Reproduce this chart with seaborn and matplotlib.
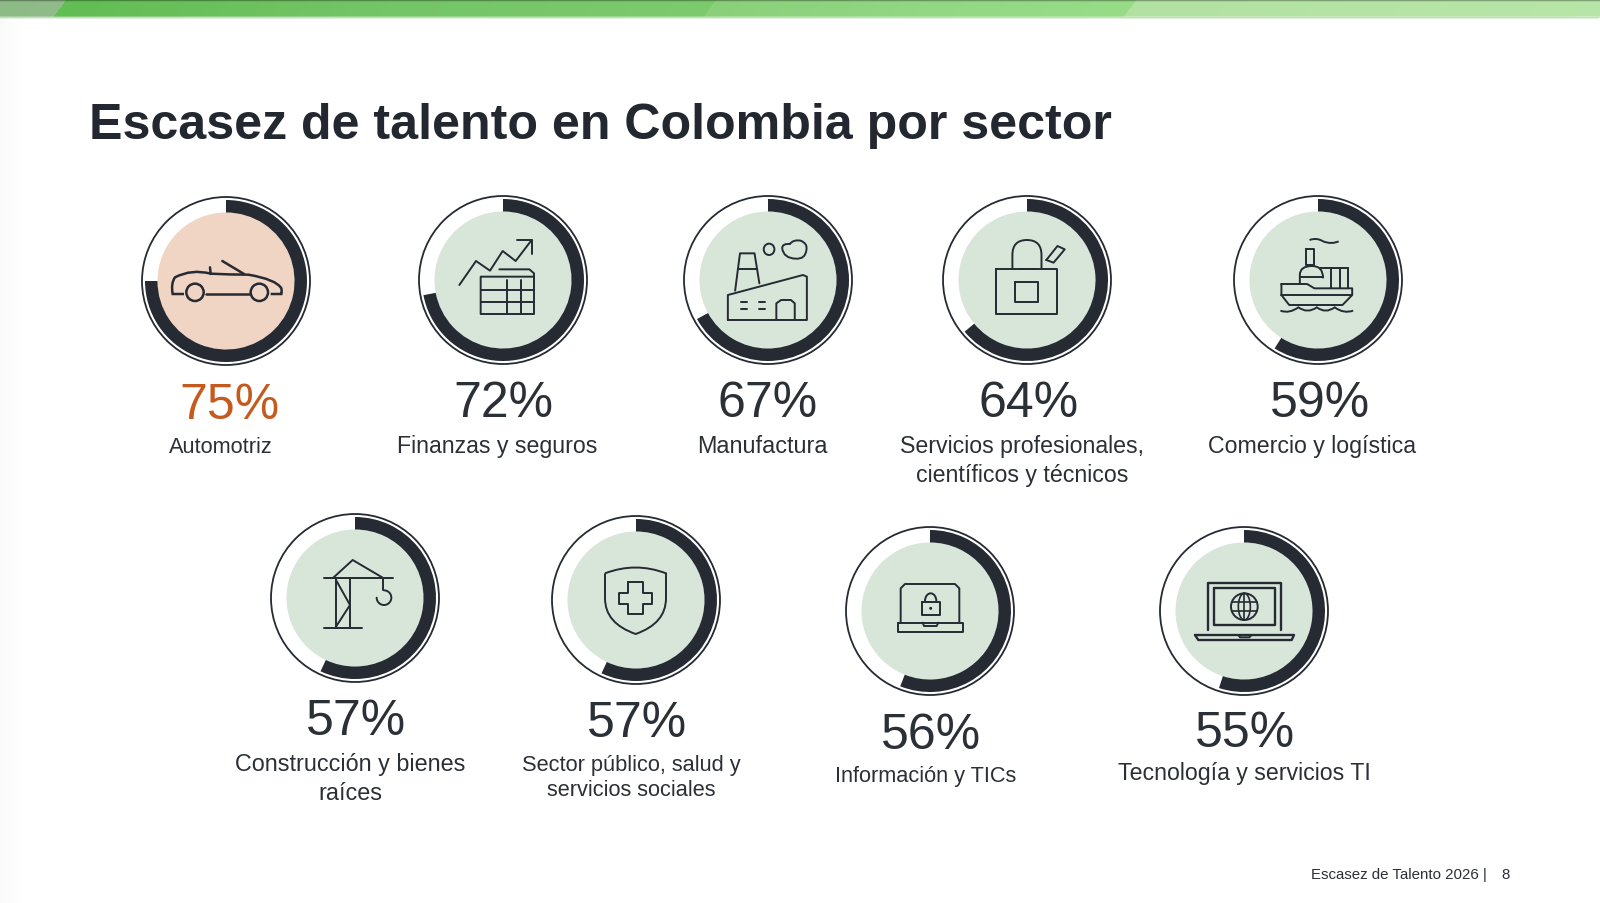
import numpy as np
import matplotlib
matplotlib.use("Agg")
import matplotlib.pyplot as plt
from matplotlib.patches import Circle, Ellipse, Arc, PathPatch
from matplotlib.path import Path
import seaborn as sns

TITLE = "Escasez de talento en Colombia por sector"
FOOTER = "Escasez de Talento 2026 |"
PAGE = "8"
sectors = ["Automotriz", "Finanzas y seguros", "Manufactura",
           "Servicios profesionales,\ncientíficos y técnicos", "Comercio y logística",
           "Construcción y bienes\nraíces", "Sector público, salud y\nservicios sociales",
           "Información y TICs", "Tecnología y servicios TI"]
values = [75, 72, 67, 64, 59, 57, 57, 56, 55]

W, H = 1600, 904
DARK = "#252a33"; GREEN = "#d8e5d9"; PEACH = "#f0d5c5"; ORANGE = "#c55a1e"; TXT = "#2b2f36"

sns.set_theme(style="white")
plt.rcParams["font.family"] = ["Liberation Sans", "DejaVu Sans"]

fig = plt.figure(figsize=(W/100, H/100), dpi=100, facecolor="white")
ax = fig.add_axes([0, 0, 1, 1])
ax.set_xlim(0, W); ax.set_ylim(H, 0); ax.axis("off")

# layout
centers = [(226, 282), (503, 281), (768, 281), (1027, 281), (1318, 281),
           (355, 599), (636, 601), (930, 612), (1244, 612)]
pct_pos = [(229, 406), (503, 404), (768, 404), (1029, 404), (1320, 404),
           (356, 722), (637, 724), (931, 736), (1245, 734)]
lab_pos = [(221, 448), (497, 447), (762, 447), (1022, 461), (1312, 447),
           (350, 779), (631, 778), (926, 777), (1244, 774)]
lab_size = [15.7, 16.7, 16.8, 16.7, 16.7, 16.8, 15.7, 15.7, 16.7]
lab_gap = [1.34, 1.34, 1.34, 1.34, 1.34, 1.34, 1.25, 1.34, 1.34]

# top band: slanted colour segments with a dark hairline above and a soft fade below
seg_a = sns.blend_palette(["#8dbb86", "#8fbc88"], 54)
seg_b = sns.blend_palette(["#62bd54", "#74c566", "#7ccb6d"], 650)
seg_c = sns.blend_palette(["#8ad07a", "#93d684", "#98dc88"], 420)
seg_d = sns.blend_palette(["#b2e2a2", "#b8e6a8"], 476 + 60)
row = np.vstack([seg_a, seg_b, seg_c, seg_d])
band = np.ones((20, W, 3))
for y in range(20):
    shift = int(round((17 - y) * 0.75))
    shifted = np.roll(row, shift, axis=0)[:W]
    shifted[:shift] = row[0]
    if y < 1:
        shifted = shifted * 0.45
    elif y == 1:
        shifted = shifted * 0.7
    elif y == 2:
        shifted = shifted * 0.92
    elif y >= 17:
        k = (y - 16) / 4
        shifted = shifted * (1 - k) + k
    band[y] = shifted
ax.imshow(band, extent=(0, W, 20, 0), aspect="auto", zorder=1, interpolation="bilinear")
# faint page shadow on the left
shade = np.linspace(0.98, 1, 22)[None, :, None].repeat(3, axis=2)
ax.imshow(shade, extent=(0, 22, H, 20), aspect="auto", zorder=0, vmin=0, vmax=1)
ax.set_xlim(0, W); ax.set_ylim(H, 0)

R_LINE, R_OUT, R_IN = 84, 81, 68.5
for i, ((cx, cy), v) in enumerate(zip(centers, values)):
    ax.add_patch(Circle((cx, cy), R_LINE, fc="white", ec=DARK, lw=1.3, zorder=2))
    ax.add_patch(Circle((cx, cy), R_IN, fc=PEACH if i == 0 else GREEN, ec="none", zorder=3))
    pa = fig.add_axes([(cx-R_OUT)/W, 1-(cy+R_OUT)/H, 2*R_OUT/W, 2*R_OUT/H])
    pa.pie([v, 100-v], startangle=90, counterclock=False, radius=1,
           colors=[DARK, "none"], wedgeprops=dict(width=1-R_IN/R_OUT, lw=0))
    pa.set_xlim(-1, 1); pa.set_ylim(-1, 1); pa.patch.set_alpha(0)
    ax.text(*pct_pos[i], f"{v}%", ha="center", va="center", fontsize=36,
            color=ORANGE if i == 0 else TXT, zorder=5)
    ax.text(*lab_pos[i], sectors[i], ha="center", va="center", fontsize=lab_size[i],
            color=TXT, linespacing=lab_gap[i], zorder=5)

ax.text(89, 126, TITLE, ha="left", va="center", fontsize=36.1, fontweight="bold", color="#23272f")
ax.text(1311, 875, FOOTER, ha="left", va="center", fontsize=10.8, color=TXT)
ax.text(1505, 875, PAGE, ha="center", va="center", fontsize=10.8, color=TXT)

# icons, traced in crop coordinates
def mapper(x0, y0, sx, sy=3):
    return lambda p: (x0 + p[0]/sx, y0 + 1 + p[1]/sy)
LW = 1.4
def line(m, pts, close=False, lw=LW):
    q = [m(p) for p in pts]
    if close: q.append(q[0])
    ax.plot(*zip(*q), color=DARK, lw=lw, solid_joinstyle="round", solid_capstyle="round", zorder=6)
def rect(m, x1, y1, x2, y2, lw=LW):
    line(m, [(x1, y1), (x2, y1), (x2, y2), (x1, y2)], True, lw)
def circ(m, c, rx, ry, sx=3, sy=3, lw=LW):
    ax.add_patch(Ellipse(m(c), 2*rx/sx, 2*ry/sy, fc="none", ec=DARK, lw=lw, zorder=6))
def curve(m, verts, lw=LW):
    q = [m(p) for p in verts]
    codes = [Path.MOVETO] + [Path.CURVE3]*(len(q)-1)
    ax.add_patch(PathPatch(Path(q, codes), fc="none", ec=DARK, lw=lw, zorder=6))

# car
m = mapper(120, 180, 3)
CAR = 1.8
curve(m, [(192, 342), (175, 342), (158, 342), (152, 310), (165, 292), (215, 266), (272, 281),
          (330, 284), (385, 284), (468, 298), (484, 325), (486, 334), (484, 342), (470, 342), (452, 342)], lw=CAR)
circ(m, (225, 337), 26, 26, lw=CAR); circ(m, (418, 337), 26, 26, lw=CAR)
line(m, [(258, 343), (388, 343)], lw=CAR); line(m, [(307, 243), (372, 282)], lw=CAR)
line(m, [(270, 262), (272, 282)], lw=CAR)

# finance
line(m, [(1018, 315), (1068, 243), (1110, 272), (1148, 213), (1187, 243), (1235, 180)])
line(m, [(1192, 180), (1235, 180), (1235, 222)])
line(m, [(1138, 268), (1228, 268), (1242, 280), (1242, 402), (1082, 402), (1082, 290), (1242, 290)])
for y in (330, 367): line(m, [(1082, y), (1242, y)])
for x in (1162, 1202): line(m, [(x, 300), (x, 402)])

# factory, bag, ship
m = mapper(660, 180, 2.063)
line(m, [(140, 420), (140, 345), (295, 285), (303, 290), (303, 420)], True)
line(m, [(155, 332), (165, 220), (195, 220), (205, 310)]); line(m, [(160, 268), (200, 268)])
line(m, [(240, 420), (240, 370), (250, 360), (270, 360), (278, 370), (278, 420)])
for x, y in [(168, 365), (205, 365), (168, 388), (205, 388)]:
    line(m, [(x, y), (x+12, y)])
circ(m, (225, 208), 11, 17, 2.063)
curve(m, [(252, 205), (252, 190), (268, 192), (275, 178), (290, 182), (305, 190), (302, 210),
          (300, 238), (280, 236), (255, 235), (252, 205)])

rect(m, 693, 268, 818, 402); rect(m, 733, 305, 780, 365); line(m, [(740, 268), (775, 268)])
curve(m, [(727, 268), (727, 225), (727, 225), (727, 180), (757, 180), (787, 180), (787, 225), (787, 225), (787, 268)])
line(m, [(797, 240), (820, 198), (835, 208), (812, 248)], True)

line(m, [(1282, 312), (1335, 312), (1350, 325), (1428, 325), (1428, 345), (1408, 375), (1298, 375), (1282, 345)], True)
line(m, [(1282, 345), (1428, 345)])
curve(m, [(1320, 312), (1320, 285), (1320, 285), (1320, 258), (1345, 258), (1368, 258), (1368, 295)])
line(m, [(1320, 290), (1368, 290)])
rect(m, 1332, 208, 1350, 255)
line(m, [(1362, 265), (1420, 265)])
for x in (1385, 1402, 1420): line(m, [(x, 265), (x, 325)])
curve(m, [(1280, 392), (1298, 402), (1317, 382), (1336, 402), (1355, 382), (1373, 402), (1392, 382), (1410, 402), (1430, 392)])
curve(m, [(1340, 180), (1355, 172), (1368, 184), (1385, 194), (1400, 184)])

# crane, shield
m = mapper(260, 505, 3)
line(m, [(193, 220), (400, 220)]); line(m, [(220, 218), (278, 165), (368, 218)])
line(m, [(228, 220), (228, 370)]); line(m, [(270, 220), (270, 370)]); line(m, [(193, 370), (305, 370)])
line(m, [(228, 225), (270, 300), (228, 365)]); line(m, [(370, 220), (370, 256)])
t = np.radians(np.linspace(-90, 180, 40))
line(m, list(zip(372 + 22*np.cos(t), 278 + 22*np.sin(t))))

curve(m, [(1035, 205), (1127, 170), (1218, 205), (1218, 205), (1218, 280), (1218, 355), (1127, 387),
          (1035, 355), (1035, 280), (1035, 205), (1035, 205)])
line(m, [(1105, 230), (1148, 230), (1148, 263), (1177, 263), (1177, 298), (1148, 298), (1148, 327),
         (1105, 327), (1105, 298), (1077, 298), (1077, 263), (1105, 263)], True)

# laptops
m = mapper(840, 515, 3)
line(m, [(182, 322), (182, 220), (195, 207), (345, 207), (358, 220), (358, 322)])
line(m, [(173, 323), (370, 323), (370, 350), (173, 350)], True)
line(m, [(248, 323), (252, 333), (290, 333), (295, 323)])
rect(m, 245, 260, 300, 300)
ax.add_patch(Arc(m((272, 258)), 34/3, 46/3, theta1=180, theta2=360, ec=DARK, lw=LW, zorder=6))
ax.add_patch(Ellipse(m((272, 280)), 3, 3, fc=DARK, ec="none", zorder=6))

line(m, [(1105, 345), (1105, 203), (1322, 203), (1322, 345)], lw=1.7)
rect(m, 1122, 220, 1305, 330, lw=1.7)
circ(m, (1213, 275), 40, 40, lw=1.4); circ(m, (1213, 275), 18, 40, lw=1.2)
line(m, [(1213, 235), (1213, 315)], lw=1.2); line(m, [(1176, 262), (1250, 262)], lw=1.2); line(m, [(1176, 288), (1250, 288)], lw=1.2)
line(m, [(1065, 360), (1362, 360), (1355, 375), (1075, 375)], True, lw=1.7)
line(m, [(1195, 360), (1200, 367), (1228, 367), (1235, 360)], lw=1.4)

ax.set_xlim(0, W); ax.set_ylim(H, 0)
fig.savefig("out.png", dpi=100, facecolor="white")
